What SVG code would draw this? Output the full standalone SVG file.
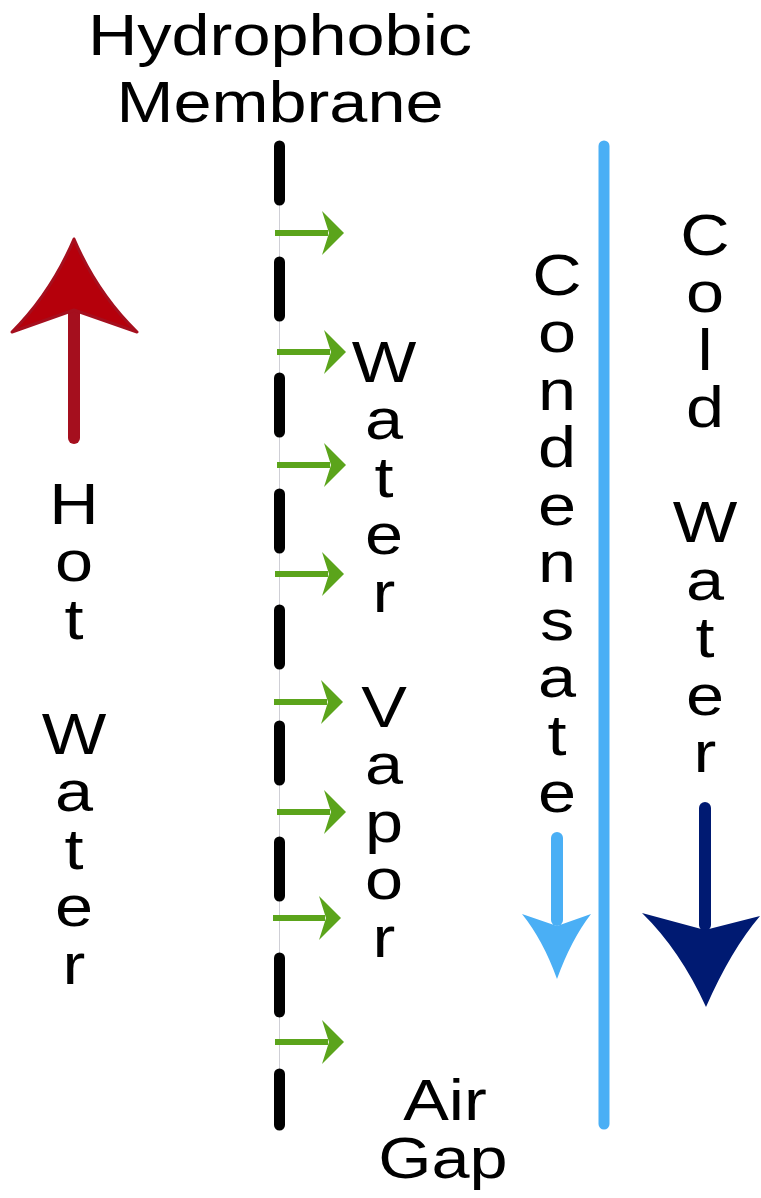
<svg xmlns="http://www.w3.org/2000/svg" width="761" height="1198" viewBox="0 0 761 1198">
<style>
text{font-family:"Liberation Sans",Arial,Helvetica,sans-serif;font-size:58px;fill:#000;text-anchor:middle}
.dash{stroke:#000;stroke-width:11;stroke-linecap:round}
.vap line{stroke:#5ba41b;stroke-width:6}
.vap path{fill:#5ba41b}
</style>
<rect width="761" height="1198" fill="#fff"/>
<g id="membrane-label">
<text transform="translate(280,55) scale(1.18,1)">Hydrophobic</text>
<text transform="translate(280,122) scale(1.18,1)">Membrane</text>
</g>
<g id="membrane">
<line x1="279.5" y1="143" x2="279.5" y2="1128" stroke="#cfcfd6" stroke-width="1"/>
<line class="dash" x1="279.5" y1="146" x2="279.5" y2="200"/>
<line class="dash" x1="279.5" y1="262" x2="279.5" y2="316"/>
<line class="dash" x1="279.5" y1="378" x2="279.5" y2="432"/>
<line class="dash" x1="279.5" y1="494" x2="279.5" y2="548"/>
<line class="dash" x1="279.5" y1="610" x2="279.5" y2="664"/>
<line class="dash" x1="279.5" y1="726" x2="279.5" y2="780"/>
<line class="dash" x1="279.5" y1="842" x2="279.5" y2="896"/>
<line class="dash" x1="279.5" y1="958" x2="279.5" y2="1012"/>
<line class="dash" x1="279.5" y1="1074" x2="279.5" y2="1125"/>
</g>
<g id="condenser-plate">
<line x1="604" y1="146" x2="604" y2="1124" stroke="#4aaff5" stroke-width="11" stroke-linecap="round"/>
</g>
<g id="connectors" class="vap">
<line x1="275" y1="233" x2="328" y2="233"/><path d="M322,211 L344,233 L322,255 L329,233 Z"/>
<line x1="277" y1="352" x2="330" y2="352"/><path d="M324,330 L346,352 L324,374 L331,352 Z"/>
<line x1="277" y1="465" x2="330" y2="465"/><path d="M324,443 L346,465 L324,487 L331,465 Z"/>
<line x1="275" y1="574" x2="328" y2="574"/><path d="M322,552 L344,574 L322,596 L329,574 Z"/>
<line x1="274" y1="702" x2="327" y2="702"/><path d="M321,680 L343,702 L321,724 L328,702 Z"/>
<line x1="277" y1="812" x2="330" y2="812"/><path d="M324,790 L346,812 L324,834 L331,812 Z"/>
<line x1="273" y1="918" x2="325" y2="918"/><path d="M319,896 L341,918 L319,940 L326,918 Z"/>
<line x1="275" y1="1042" x2="328" y2="1042"/><path d="M322,1020 L344,1042 L322,1064 L329,1042 Z"/>
</g>
<g id="hot-arrow">
<line x1="74" y1="438" x2="74" y2="312" stroke="#a50f1e" stroke-width="12" stroke-linecap="round"/>
<path d="M74,239 Q97,293 137,332 L74,310 L12,332 Q51,293 74,239 Z" fill="#b5000b" stroke="#a50f1e" stroke-width="3" stroke-linejoin="round"/>
</g>
<g id="hot-water">
<text transform="translate(74,0) scale(1.18,1)"><tspan x="0" y="524">H</tspan><tspan x="0" y="581.5">o</tspan><tspan x="0" y="639">t</tspan><tspan x="0" y="754">W</tspan><tspan x="0" y="811.5">a</tspan><tspan x="0" y="869">t</tspan><tspan x="0" y="926.5">e</tspan><tspan x="0" y="984">r</tspan></text>
</g>
<g id="water-vapor">
<text transform="translate(384,0) scale(1.18,1)"><tspan x="0" y="382">W</tspan><tspan x="0" y="439.5">a</tspan><tspan x="0" y="497">t</tspan><tspan x="0" y="554.5">e</tspan><tspan x="0" y="612">r</tspan><tspan x="0" y="727">V</tspan><tspan x="0" y="784.5">a</tspan><tspan x="0" y="842">p</tspan><tspan x="0" y="899.5">o</tspan><tspan x="0" y="957">r</tspan></text>
</g>
<g id="condensate">
<text transform="translate(557,0) scale(1.18,1)"><tspan x="0" y="295">C</tspan><tspan x="0" y="352.5">o</tspan><tspan x="0" y="410">n</tspan><tspan x="0" y="467.5">d</tspan><tspan x="0" y="525">e</tspan><tspan x="0" y="582.5">n</tspan><tspan x="0" y="640">s</tspan><tspan x="0" y="697.5">a</tspan><tspan x="0" y="755">t</tspan><tspan x="0" y="812.5">e</tspan></text>
</g>
<g id="condensate-arrow">
<line x1="557" y1="838" x2="557" y2="920" stroke="#4aaff5" stroke-width="12" stroke-linecap="round"/>
<path d="M557,926 L522,914 Q543,940 557,979 Q571,940 591,914 Z" fill="#4aaff5"/>
</g>
<g id="cold-water">
<text transform="translate(705,0) scale(1.18,1)"><tspan x="0" y="255">C</tspan><tspan x="0" y="312.5">o</tspan><tspan x="0" y="370">l</tspan><tspan x="0" y="427.5">d</tspan><tspan x="0" y="542.5">W</tspan><tspan x="0" y="600">a</tspan><tspan x="0" y="657.5">t</tspan><tspan x="0" y="715">e</tspan><tspan x="0" y="772.5">r</tspan></text>
</g>
<g id="cold-arrow">
<line x1="705" y1="808" x2="705" y2="925" stroke="#001a72" stroke-width="12" stroke-linecap="round"/>
<path d="M705,930 L642,913 Q680,950 706,1007 Q731,950 760,916 Z" fill="#001a72"/>
</g>
<g id="air-gap">
<text transform="translate(445,1120) scale(1.18,1)">Air</text>
<text transform="translate(443,1178) scale(1.18,1)">Gap</text>
</g>
</svg>
